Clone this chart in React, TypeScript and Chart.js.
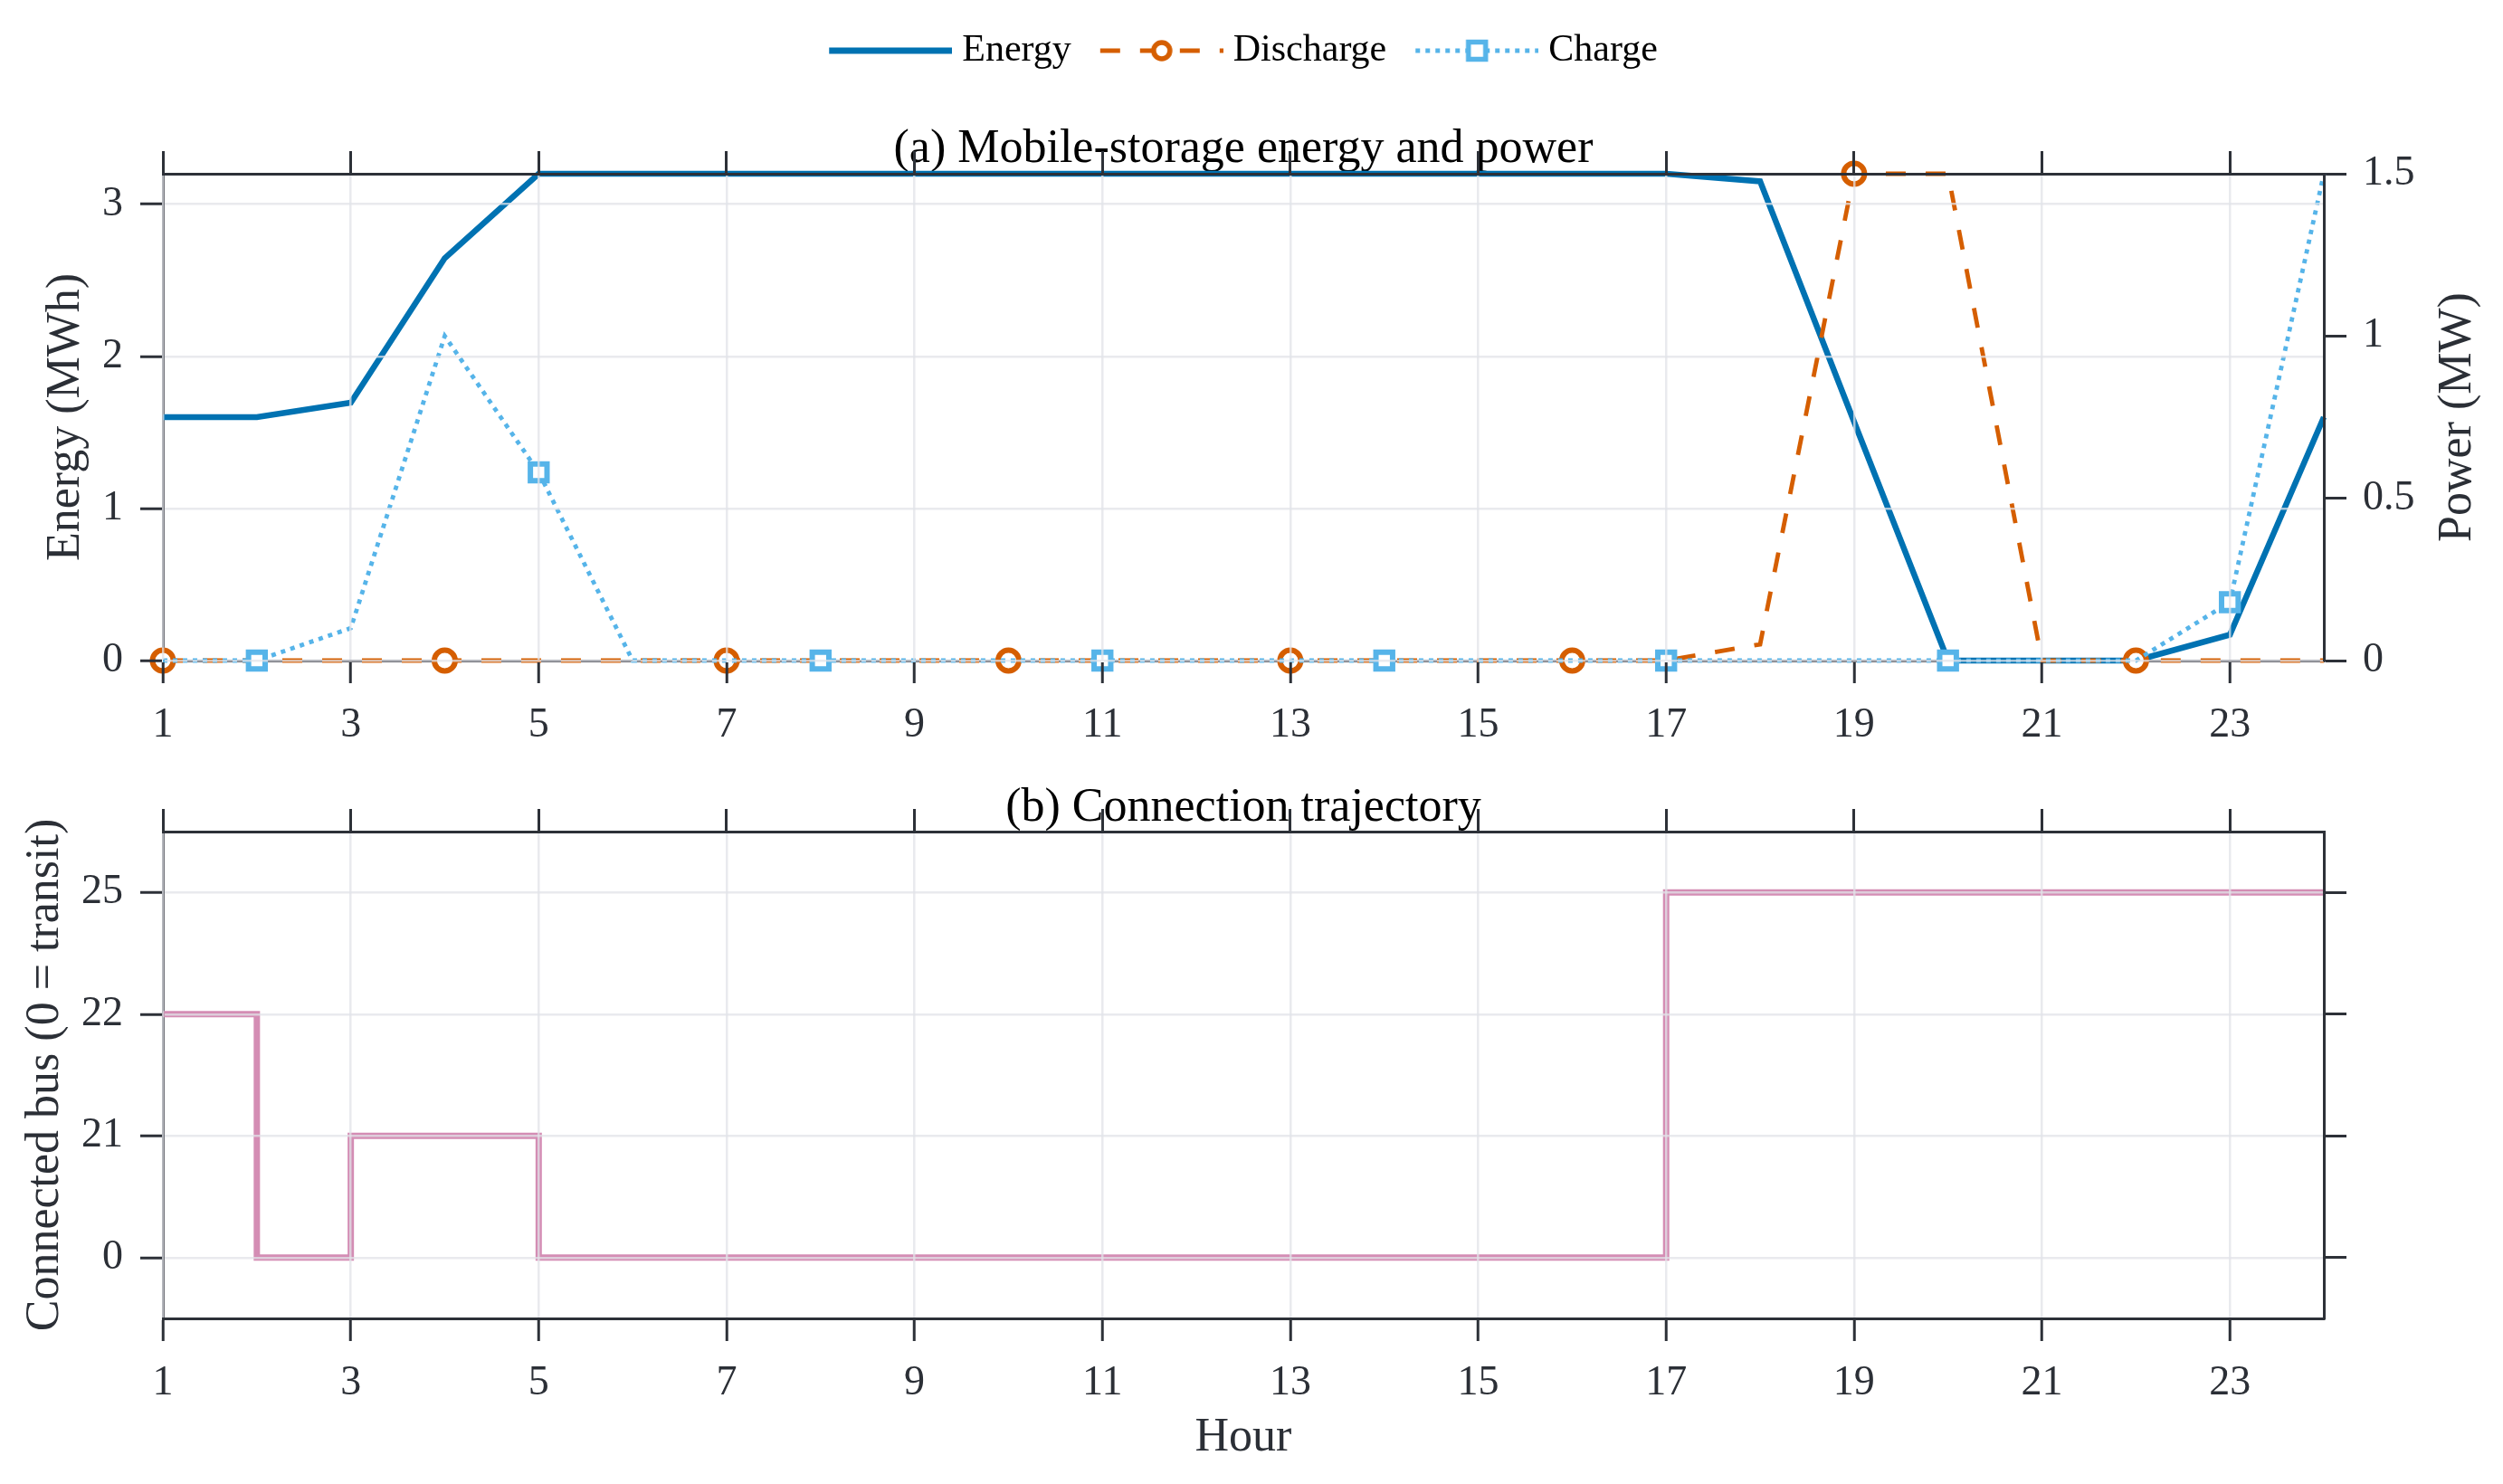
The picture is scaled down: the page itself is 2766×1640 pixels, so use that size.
import React, { useEffect, useRef } from 'react';
import { Chart, registerables } from 'chart.js';

Chart.register(...registerables);

// ---------------- data ----------------
const hours = [1, 2, 3, 4, 5, 6, 7, 8, 9, 10, 11, 12, 13, 14, 15, 16, 17, 18, 19, 20, 21, 22, 23, 24];
const energyMWh = [1.6, 1.6, 1.695, 2.645, 3.2, 3.2, 3.2, 3.2, 3.2, 3.2, 3.2, 3.2, 3.2, 3.2, 3.2, 3.2, 3.2, 3.15, 1.57, 0, 0, 0, 0.17, 1.6];
const dischargeMW = [0, 0, 0, 0, 0, 0, 0, 0, 0, 0, 0, 0, 0, 0, 0, 0, 0, 0.05, 1.5, 1.5, 0, 0, 0, 0];
const chargeMW = [0, 0, 0.1, 1.0, 0.58, 0, 0, 0, 0, 0, 0, 0, 0, 0, 0, 0, 0, 0, 0, 0, 0, 0, 0.18, 1.5];
const dischargeMarkerHours = [1, 4, 7, 10, 13, 16, 19, 22];
const chargeMarkerHours = [2, 5, 8, 11, 14, 17, 20, 23];
const hourTicks = [1, 3, 5, 7, 9, 11, 13, 15, 17, 19, 21, 23];
const energyTicks = [0, 1, 2, 3];
const powerTicks = [0, 0.5, 1, 1.5];
const busLevels = [0, 21, 22, 25];
const busByHour = [22, 0, 21, 21, 0, 0, 0, 0, 0, 0, 0, 0, 0, 0, 0, 0, 25, 25, 25, 25, 25, 25, 25, 25];
const seriesNames = ['Energy', 'Discharge', 'Charge'];
const titleA = '(a) Mobile-storage energy and power';
const titleB = '(b) Connection trajectory';
const yTitleEnergy = 'Energy (MWh)';
const yTitlePower = 'Power (MW)';
const yTitleBus = 'Connected bus (0 = transit)';
const xTitle = 'Hour';

// ---------------- style ----------------
const FONT = '"Liberation Serif", "Times New Roman", serif';
const AXIS = '#2d3138';
const TEXT = '#2b2f36';
const GRID = 'rgba(226,227,232,0.75)';
const BLUE = '#0072B2';
const ORANGE = '#D55E00';
const SKY = '#56B4E9';
const PINK = 'rgba(204,121,167,0.85)';

const W = 2766;
const H_TOP = 850;
const H_BOT = 790;

const tickFont = { family: FONT, size: 46 };
const setTicks = (vals: number[]) => (scale: any) => {
  scale.ticks = vals.map((v) => ({ value: v }));
};

function makeSwatch(kind: string) {
  const c = document.createElement('canvas');
  c.width = 146;
  c.height = 36;
  const g = c.getContext('2d') as CanvasRenderingContext2D;
  const x0 = 10;
  const x1 = 146;
  const y = 18;
  const xm = (x0 + x1) / 2;
  g.lineCap = 'butt';
  const line = () => {
    g.beginPath();
    g.moveTo(x0, y);
    g.lineTo(x1, y);
    g.stroke();
  };
  if (kind === 'energy') {
    g.strokeStyle = BLUE;
    g.lineWidth = 7;
    line();
  } else if (kind === 'discharge') {
    g.strokeStyle = ORANGE;
    g.lineWidth = 5;
    g.setLineDash([22, 22]);
    line();
    g.setLineDash([]);
    g.fillStyle = '#fff';
    g.lineWidth = 5.5;
    g.beginPath();
    g.arc(xm, y, 9, 0, Math.PI * 2);
    g.fill();
    g.stroke();
  } else {
    g.strokeStyle = SKY;
    g.lineWidth = 5;
    g.setLineDash([5, 6]);
    line();
    g.setLineDash([]);
    g.fillStyle = '#fff';
    g.lineWidth = 5.5;
    g.beginPath();
    g.rect(xm - 9.5, y - 9.5, 19, 19);
    g.fill();
    g.stroke();
  }
  return c;
}

function makeSideTitles(items: { scale: string; side: string; offset: number; text: string }[]) {
  return {
    id: 'sideTitles',
    // grid layers are drawn above the data; make sure each scale knows where its
    // border sits before the (lower) border layer is painted
    beforeDraw(chart: any) {
      Object.values(chart.scales).forEach((s: any) => {
        if (typeof s._computeGridLineItems === 'function') {
          s._gridLineItems = s._computeGridLineItems(chart.chartArea);
        }
      });
    },
    afterDraw(chart: any) {
      const ctx = chart.ctx as CanvasRenderingContext2D;
      items.forEach((it) => {
        const s = chart.scales[it.scale];
        if (!s) return;
        const x = it.side === 'left' ? s.left + it.offset : s.right - it.offset;
        const y = (s.top + s.bottom) / 2;
        ctx.save();
        ctx.translate(x, y);
        ctx.rotate(-Math.PI / 2);
        ctx.font = `normal 52px ${FONT}`;
        ctx.fillStyle = TEXT;
        ctx.textAlign = 'center';
        ctx.textBaseline = 'middle';
        ctx.fillText(it.text, 0, 0);
        ctx.restore();
      });
    },
  };
}

const gridMain = {
  color: GRID,
  lineWidth: 2.5,
  drawTicks: true,
  tickLength: 25,
  tickColor: AXIS,
  tickWidth: 3,
  z: 1,
};
const gridMirror = {
  drawOnChartArea: false,
  drawTicks: true,
  tickLength: 25,
  tickColor: AXIS,
  tickWidth: 3,
};

function xBottom(height: number, withTitle: boolean) {
  return {
    type: 'linear',
    position: 'bottom',
    min: 1,
    max: 24,
    afterBuildTicks: setTicks(hourTicks),
    afterFit: (s: any) => {
      s.height = height;
    },
    grid: gridMain,
    border: { color: AXIS, width: 3, z: 0 },
    ticks: {
      font: tickFont,
      color: TEXT,
      padding: 19,
      maxRotation: 0,
      autoSkip: false,
      callback: (v: any) => String(v),
    },
    title: {
      display: withTitle,
      text: xTitle,
      font: { family: FONT, size: 52 },
      color: TEXT,
      padding: { top: 0, bottom: 19 },
    },
  };
}

function xTop() {
  return {
    type: 'linear',
    position: 'top',
    min: 1,
    max: 24,
    afterBuildTicks: setTicks(hourTicks),
    afterFit: (s: any) => {
      s.height = 25;
    },
    grid: { ...gridMirror, z: 1 },
    border: { color: AXIS, width: 3, z: 1 },
    ticks: { display: false },
  };
}

function topConfig(swatches: HTMLCanvasElement[]): any {
  const pts = (arr: number[]) => hours.map((h, i) => ({ x: h, y: arr[i] }));
  return {
    type: 'line',
    data: {
      datasets: [
        {
          label: seriesNames[0],
          data: pts(energyMWh),
          yAxisID: 'y',
          borderColor: BLUE,
          borderWidth: 6.5,
          pointRadius: 0,
          borderCapStyle: 'butt',
          borderJoinStyle: 'miter',
          clip: false,
          order: 2,
        },
        {
          label: seriesNames[1],
          data: pts(dischargeMW),
          yAxisID: 'y2',
          borderColor: ORANGE,
          borderWidth: 4.8,
          borderDash: [22, 22],
          borderCapStyle: 'butt',
          pointStyle: 'circle',
          pointRadius: (c: any) => (dischargeMarkerHours.includes(hours[c.dataIndex]) ? 11.5 : 0),
          pointBorderWidth: 6,
          pointBorderColor: ORANGE,
          pointBackgroundColor: '#fff',
          clip: false,
          order: 1,
        },
        {
          label: seriesNames[2],
          data: pts(chargeMW),
          yAxisID: 'y2',
          borderColor: SKY,
          borderWidth: 4.8,
          borderDash: [5, 6],
          borderCapStyle: 'butt',
          pointStyle: 'rect',
          pointRadius: (c: any) => (chargeMarkerHours.includes(hours[c.dataIndex]) ? 13 : 0),
          pointBorderWidth: 6,
          pointBorderColor: SKY,
          pointBackgroundColor: '#fff',
          clip: false,
          order: 0,
        },
      ],
    },
    options: {
      responsive: false,
      maintainAspectRatio: false,
      devicePixelRatio: 1,
      animation: false,
      events: [],
      layout: { padding: { top: 3, left: 0, right: 18, bottom: 0 } },
      plugins: {
        tooltip: { enabled: false },
        legend: {
          display: true,
          position: 'top',
          weight: 1000,
          labels: {
            font: { family: FONT, size: 42 },
            color: '#000',
            usePointStyle: true,
            pointStyleWidth: 126,
            padding: 32,
            generateLabels: (chart: any) => {
              const items = Chart.defaults.plugins.legend.labels.generateLabels(chart);
              items.sort((a: any, b: any) => a.datasetIndex - b.datasetIndex);
              return items.map((it: any) => ({ ...it, pointStyle: swatches[it.datasetIndex], fontColor: '#000' }));
            },
          },
        },
        title: {
          display: true,
          text: titleA,
          weight: 500,
          color: '#000',
          font: { family: FONT, size: 52, weight: 'normal' },
          padding: { top: 46.8, bottom: -29.2 },
        },
      },
      scales: {
        x: xBottom(H_TOP - 730, false),
        x2: xTop(),
        y: {
          type: 'linear',
          position: 'left',
          min: 0,
          max: 3.2,
          afterBuildTicks: setTicks(energyTicks),
          afterFit: (s: any) => {
            s.width = 180;
          },
          grid: gridMain,
          border: { color: AXIS, width: 3, z: 0 },
          ticks: { font: tickFont, color: TEXT, padding: 19, callback: (v: any) => String(v) },
        },
        y2: {
          type: 'linear',
          position: 'right',
          min: 0,
          max: 1.5,
          afterBuildTicks: setTicks(powerTicks),
          afterFit: (s: any) => {
            s.width = 180;
          },
          grid: gridMirror,
          border: { color: AXIS, width: 3, z: 1 },
          ticks: { font: tickFont, color: TEXT, padding: 18, callback: (v: any) => String(v) },
        },
      },
    },
    plugins: [
      makeSideTitles([
        { scale: 'y', side: 'left', offset: 73, text: yTitleEnergy },
        { scale: 'y2', side: 'right', offset: 32, text: yTitlePower },
      ]),
    ],
  };
}

function bottomConfig(): any {
  const data = hours.map((h, i) => ({ x: h, y: busLevels.indexOf(busByHour[i]) }));
  return {
    type: 'line',
    data: {
      datasets: [
        {
          label: 'Connected bus',
          data,
          borderColor: PINK,
          borderWidth: 7,
          pointRadius: 0,
          stepped: 'before',
          borderJoinStyle: 'miter',
          borderCapStyle: 'butt',
          clip: false,
        },
      ],
    },
    options: {
      responsive: false,
      maintainAspectRatio: false,
      devicePixelRatio: 1,
      animation: false,
      events: [],
      layout: { padding: { top: 0, left: 0, right: 18, bottom: 0 } },
      plugins: {
        tooltip: { enabled: false },
        legend: { display: false },
        title: {
          display: true,
          text: titleB,
          color: '#000',
          font: { family: FONT, size: 52, weight: 'normal' },
          padding: { top: 11.8, bottom: -30.2 },
        },
      },
      scales: {
        x: xBottom(H_BOT - 607, true),
        x2: xTop(),
        y: {
          type: 'linear',
          position: 'left',
          min: -0.5,
          max: 3.5,
          afterBuildTicks: setTicks(busLevels.map((_, i) => i)),
          afterFit: (s: any) => {
            s.width = 180;
          },
          grid: gridMain,
          border: { color: AXIS, width: 3, z: 0 },
          ticks: { font: tickFont, color: TEXT, padding: 19, callback: (v: any) => String(busLevels[v]) },
        },
        yR: {
          type: 'linear',
          position: 'right',
          min: -0.5,
          max: 3.5,
          afterBuildTicks: setTicks(busLevels.map((_, i) => i)),
          afterFit: (s: any) => {
            s.width = 180;
          },
          grid: gridMirror,
          border: { color: AXIS, width: 3, z: 1 },
          ticks: { display: false },
        },
      },
    },
    plugins: [makeSideTitles([{ scale: 'y', side: 'left', offset: 50, text: yTitleBus }])],
  };
}

export default function App() {
  const topRef = useRef<HTMLCanvasElement>(null);
  const botRef = useRef<HTMLCanvasElement>(null);

  useEffect(() => {
    const swatches = [makeSwatch('energy'), makeSwatch('discharge'), makeSwatch('charge')];
    const top = new Chart(topRef.current as HTMLCanvasElement, topConfig(swatches));
    const bot = new Chart(botRef.current as HTMLCanvasElement, bottomConfig());
    return () => {
      top.destroy();
      bot.destroy();
    };
  }, []);

  return (
    <div style={{ position: 'absolute', left: 0, top: 0, width: W, height: H_TOP + H_BOT, background: '#fff', overflow: 'hidden' }}>
      <canvas
        ref={topRef}
        width={W}
        height={H_TOP}
        style={{ position: 'absolute', left: 0, top: 0, width: W, height: H_TOP }}
      />
      <canvas
        ref={botRef}
        width={W}
        height={H_BOT}
        style={{ position: 'absolute', left: 0, top: H_TOP, width: W, height: H_BOT }}
      />
    </div>
  );
}
